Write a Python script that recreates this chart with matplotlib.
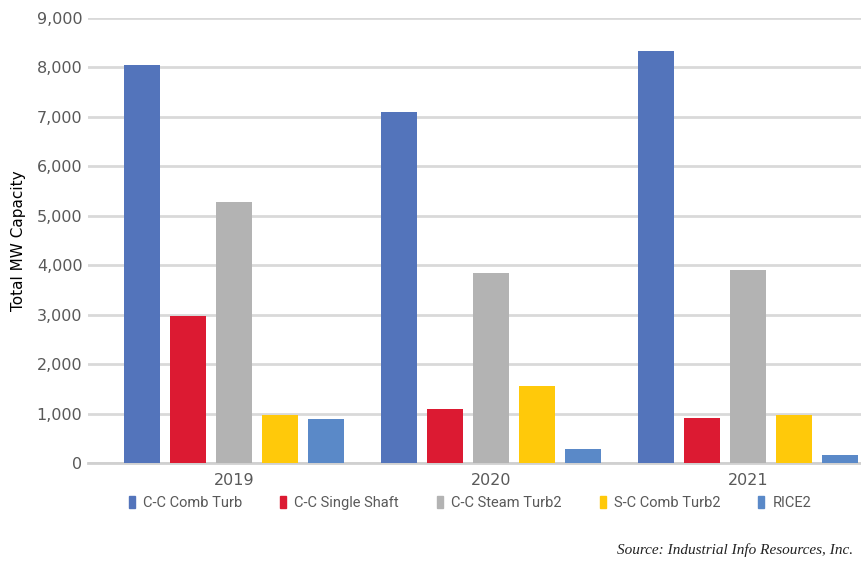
import numpy as np
import matplotlib.pyplot as plt
from matplotlib.patches import Patch

years = ['2019', '2020', '2021']
series = ['C-C Comb Turb', 'C-C Single Shaft', 'C-C Steam Turb2', 'S-C Comb Turb2', 'RICE2']
comb_turb = [8050, 7100, 8330]
single_shaft = [2970, 1090, 910]
steam_turb = [5280, 3840, 3900]
sc_comb_turb = [970, 1560, 970]
rice = [890, 280, 160]

colors = ['#5374BB', '#DC1A32', '#B3B3B3', '#FFC90A', '#5A89C8']
values = [comb_turb, single_shaft, steam_turb, sc_comb_turb, rice]

fig = plt.figure(figsize=(8.61, 5.64), dpi=100)
ax = fig.add_axes([88/861, 1-463/564, 1-88/861, 445/564])

x = np.arange(len(years))
pitch = 46/257
width = 36/257
for i in range(len(series)):
    ax.bar(x + (i-2)*pitch, values[i], width, color=colors[i], zorder=3)

ax.set_ylim(0, 9000)
ax.set_xlim(-146/257, 2 + 113/257)
ax.set_yticks(np.arange(0, 9001, 1000))
ax.set_yticklabels(['{:,}'.format(v) for v in range(0, 9001, 1000)])
ax.yaxis.grid(True, color='#D9D9D9', linewidth=2, zorder=0)
ax.set_axisbelow(True)
for s in ['top', 'right', 'left']:
    ax.spines[s].set_visible(False)
ax.spines['bottom'].set_color('#D0D0D0')
ax.spines['bottom'].set_linewidth(2)
ax.tick_params(axis='y', length=0, labelsize=11.5, labelcolor='#595959', pad=4)
ax.tick_params(axis='x', length=0, labelsize=11.5, labelcolor='#595959', pad=7)
ax.set_xticks(x)
ax.set_xticklabels(years)
ax.set_ylabel('Total MW Capacity', fontsize=11, color='black', labelpad=8)

handles = [Patch(color=c) for c in colors]
fig.legend(handles, series, loc='center', bbox_to_anchor=(470/861, 1-503/564), ncol=5,
           frameon=False, prop={'family': 'Roboto', 'size': 10.5},
           labelcolor='#595959', handlelength=0.42, handleheight=0.8,
           handletextpad=0.55, columnspacing=2.6)

fig.text(617/861, 1-550/564, 'Source: Industrial Info Resources, Inc.', fontsize=11,
         style='italic', family='Liberation Serif', color='#222222', va='center')

fig.savefig('out.png', dpi=100)
